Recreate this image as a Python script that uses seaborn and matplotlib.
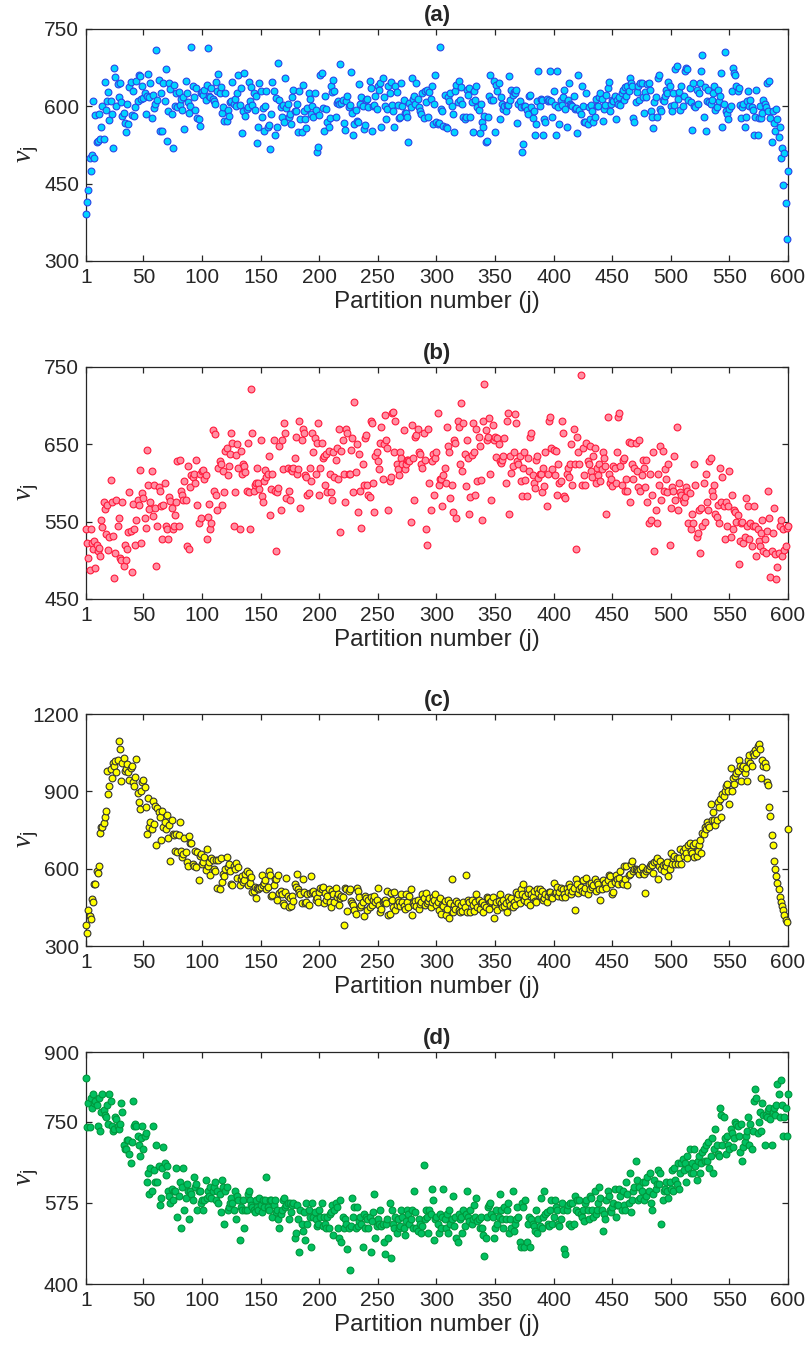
import numpy as np
import pandas as pd
import matplotlib
matplotlib.use("Agg")
import matplotlib.pyplot as plt
import seaborn as sns

# ---------------- data ----------------
x_ticks = [1, 50, 100, 150, 200, 250, 300, 350, 400, 450, 500, 550, 600]
panel_titles = ["(a)", "(b)", "(c)", "(d)"]
x_label = "Partition number (j)"
y_label = r"$\nu_{\mathrm{j}}$"

nu_a = [
    392, 415, 437, 500, 475, 505, 610, 500, 583, 530,
    533, 585, 537, 560, 600, 536, 648, 592, 610, 628,
    573, 610, 585, 520, 675, 657, 600, 643, 618, 645,
    608, 582, 587, 568, 550, 604, 565, 638, 647, 583,
    630, 582, 598, 650, 610, 660, 658, 615, 640, 617,
    625, 585, 620, 662, 618, 645, 578, 622, 596, 605,
    710, 612, 652, 553, 626, 553, 645, 610, 672, 533,
    590, 645, 633, 585, 520, 642, 600, 625, 598, 628,
    603, 615, 592, 618, 557, 650, 625, 608, 588, 600,
    715, 640, 618, 592, 636, 578, 575, 562, 625, 628,
    622, 632, 612, 642, 713, 620, 618, 635, 615, 610,
    605, 648, 630, 662, 625, 638, 588, 598, 572, 625,
    572, 592, 582, 608, 610, 647, 605, 615, 600, 625,
    660, 603, 635, 548, 590, 664, 582, 595, 598, 647,
    610, 638, 602, 625, 592, 620, 528, 560, 645, 630,
    580, 597, 553, 600, 630, 560, 563, 518, 585, 648,
    630, 545, 617, 560, 685, 612, 598, 580, 603, 570,
    655, 597, 605, 580, 585, 565, 618, 632, 590, 590,
    605, 550, 630, 575, 550, 642, 590, 575, 558, 596,
    625, 615, 585, 600, 580, 625, 592, 512, 522, 583,
    660, 665, 597, 553, 620, 595, 570, 560, 578, 640,
    628, 652, 630, 580, 607, 610, 605, 682, 606, 612,
    567, 555, 610, 620, 598, 603, 667, 588, 545, 565,
    592, 572, 570, 643, 605, 618, 600, 557, 563, 612,
    615, 598, 650, 635, 552, 600, 603, 620, 595, 640,
    632, 645, 560, 655, 618, 600, 575, 595, 640, 625,
    648, 602, 590, 560, 640, 628, 603, 578, 580, 645,
    600, 612, 587, 588, 580, 530, 607, 598, 655, 615,
    620, 604, 645, 615, 598, 590, 585, 625, 578, 630,
    608, 632, 580, 628, 615, 640, 565, 605, 660, 570,
    565, 568, 715, 595, 590, 562, 622, 560, 558, 618,
    610, 625, 600, 585, 550, 630, 642, 608, 650, 612,
    638, 605, 580, 575, 580, 632, 622, 635, 580, 608,
    550, 630, 612, 640, 598, 592, 548, 605, 570, 560,
    582, 530, 533, 580, 620, 660, 612, 612, 650, 550,
    642, 630, 645, 575, 618, 605, 595, 600, 590, 603,
    603, 658, 613, 632, 622, 628, 625, 632, 568, 605,
    610, 598, 512, 527, 600, 600, 592, 585, 620, 622,
    598, 578, 590, 545, 565, 610, 668, 600, 615, 612,
    545, 575, 570, 615, 610, 612, 668, 610, 580, 630,
    603, 545, 668, 598, 565, 612, 602, 618, 632, 595,
    560, 612, 645, 605, 602, 600, 620, 595, 597, 548,
    660, 592, 585, 640, 600, 570, 570, 625, 565, 598,
    575, 602, 590, 570, 580, 615, 600, 600, 618, 625,
    615, 572, 595, 602, 622, 635, 648, 590, 605, 612,
    610, 620, 575, 612, 605, 618, 603, 625, 632, 612,
    638, 620, 640, 630, 655, 645, 640, 578, 570, 608,
    628, 640, 612, 645, 645, 618, 588, 628, 618, 643,
    645, 632, 590, 580, 558, 608, 618, 580, 655, 660,
    595, 590, 612, 610, 620, 632, 625, 648, 640, 600,
    590, 625, 602, 672, 678, 615, 628, 592, 640, 600,
    620, 668, 675, 672, 612, 635, 608, 555, 645, 600,
    598, 632, 605, 625, 645, 668, 700, 580, 638, 553,
    610, 632, 608, 605, 612, 625, 640, 592, 598, 632,
    610, 620, 665, 560, 605, 705, 590, 585, 575, 595,
    600, 630, 675, 665, 660, 640, 630, 635, 603, 578,
    598, 605, 560, 580, 610, 630, 600, 612, 598, 592,
    545, 580, 632, 545, 578, 600, 578, 588, 612, 605,
    598, 645, 590, 650, 578, 530, 590, 568, 553, 595,
    575, 540, 560, 500, 520, 447, 510, 412, 343, 475,
]

nu_b = [
    540, 522, 503, 488, 541, 522, 515, 525, 490, 520,
    512, 516, 505, 552, 543, 575, 566, 534, 572, 513,
    530, 604, 575, 532, 477, 510, 578, 545, 555, 503,
    500, 575, 493, 520, 500, 515, 536, 588, 538, 485,
    573, 540, 520, 552, 578, 572, 617, 522, 587, 580,
    555, 542, 643, 598, 567, 576, 615, 557, 597, 568,
    493, 545, 595, 590, 570, 528, 572, 600, 545, 540,
    528, 582, 577, 568, 540, 545, 558, 576, 628, 545,
    630, 590, 585, 578, 603, 578, 518, 622, 515, 595,
    610, 608, 612, 600, 630, 572, 548, 612, 555, 615,
    617, 605, 610, 528, 556, 573, 540, 548, 668, 590,
    663, 585, 565, 620, 628, 625, 572, 615, 588, 642,
    645, 610, 622, 638, 665, 652, 545, 588, 636, 650,
    620, 540, 641, 612, 625, 622, 614, 590, 652, 588,
    541, 722, 665, 590, 597, 600, 620, 600, 592, 655,
    583, 575, 603, 617, 608, 612, 635, 558, 592, 612,
    655, 590, 512, 588, 593, 648, 565, 655, 618, 678,
    665, 580, 620, 590, 578, 618, 615, 620, 632, 660,
    612, 618, 680, 568, 655, 670, 665, 610, 608, 585,
    587, 620, 603, 665, 640, 658, 612, 652, 678, 585,
    620, 652, 632, 635, 598, 637, 588, 642, 612, 588,
    578, 640, 608, 630, 645, 605, 670, 536, 642, 655,
    612, 576, 670, 665, 612, 612, 643, 658, 588, 705,
    614, 650, 562, 638, 590, 542, 625, 598, 658, 662,
    598, 585, 582, 680, 678, 600, 562, 635, 640, 628,
    618, 652, 672, 605, 650, 688, 655, 645, 565, 602,
    608, 690, 692, 640, 680, 625, 618, 610, 640, 632,
    625, 668, 618, 625, 630, 630, 628, 550, 675, 632,
    578, 660, 662, 670, 640, 638, 624, 620, 665, 630,
    540, 520, 670, 600, 565, 628, 637, 585, 632, 640,
    690, 598, 605, 605, 570, 610, 620, 600, 672, 648,
    640, 580, 598, 563, 656, 652, 555, 680, 673, 625,
    703, 615, 678, 638, 596, 655, 632, 560, 582, 636,
    678, 640, 585, 670, 603, 660, 648, 604, 552, 680,
    728, 668, 655, 660, 684, 612, 578, 675, 656, 660,
    633, 658, 650, 628, 626, 630, 635, 658, 600, 680,
    690, 560, 635, 613, 622, 640, 689, 678, 628, 625,
    635, 602, 583, 620, 640, 604, 583, 632, 615, 660,
    665, 610, 600, 593, 630, 635, 607, 612, 612, 588,
    620, 596, 640, 570, 612, 680, 685, 645, 618, 643,
    610, 642, 585, 625, 600, 602, 680, 665, 583, 580,
    612, 620, 608, 625, 650, 598, 670, 625, 515, 660,
    640, 625, 740, 598, 645, 610, 598, 652, 628, 625,
    648, 615, 608, 635, 645, 600, 620, 610, 625, 602,
    618, 640, 632, 622, 560, 685, 612, 600, 605, 596,
    622, 620, 600, 640, 685, 690, 622, 598, 630, 632,
    590, 605, 590, 653, 575, 652, 625, 605, 620, 652,
    615, 595, 655, 590, 610, 630, 620, 595, 630, 575,
    548, 612, 552, 585, 640, 512, 565, 548, 612, 598,
    648, 578, 642, 590, 618, 605, 588, 625, 520, 568,
    595, 590, 635, 578, 672, 565, 600, 588, 585, 578,
    575, 582, 595, 590, 548, 587, 540, 560, 548, 625,
    598, 530, 535, 565, 510, 568, 545, 600, 550, 612,
    575, 565, 628, 632, 590, 583, 598, 560, 556, 572,
    548, 620, 575, 608, 570, 528, 575, 545, 570, 615,
    530, 585, 540, 565, 562, 550, 558, 495, 525, 548,
    550, 522, 530, 580, 545, 570, 528, 548, 518, 545,
    570, 545, 505, 540, 525, 518, 535, 552, 512, 528,
    510, 538, 590, 555, 478, 512, 535, 568, 508, 476,
    492, 510, 545, 552, 505, 540, 513, 518, 542, 545,
]

nu_c = [
    380, 350, 440, 418, 405, 482, 470, 540, 540, 590,
    585, 612, 740, 760, 762, 778, 800, 825, 980, 890,
    920, 985, 950, 1008, 1000, 1018, 975, 1022, 1097, 1065,
    942, 1010, 1030, 978, 985, 1005, 975, 945, 990, 1000,
    935, 920, 955, 1025, 895, 858, 830, 900, 935, 945,
    918, 840, 735, 875, 760, 780, 752, 862, 775, 845,
    690, 835, 818, 800, 710, 825, 762, 780, 752, 808,
    720, 770, 630, 790, 735, 730, 668, 735, 665, 732,
    780, 668, 645, 655, 720, 665, 625, 612, 728, 700,
    698, 620, 612, 668, 605, 665, 555, 650, 655, 620,
    625, 645, 595, 675, 612, 625, 575, 640, 635, 600,
    590, 635, 525, 635, 520, 640, 548, 580, 572, 600,
    645, 605, 620, 590, 540, 535, 610, 600, 622, 565,
    608, 535, 560, 570, 548, 555, 580, 590, 535, 585,
    545, 568, 510, 515, 530, 488, 525, 520, 525, 530,
    575, 535, 545, 555, 520, 530, 590, 575, 495, 498,
    535, 560, 560, 478, 575, 505, 512, 500, 468, 460,
    510, 565, 495, 450, 485, 455, 495, 475, 540, 530,
    578, 520, 510, 500, 465, 560, 510, 465, 470, 500,
    460, 505, 570, 510, 515, 500, 480, 485, 470, 510,
    525, 520, 530, 465, 505, 480, 495, 520, 470, 450,
    515, 500, 470, 525, 490, 500, 460, 485, 495, 490,
    380, 525, 520, 435, 515, 520, 475, 465, 460, 440,
    425, 525, 515, 490, 450, 460, 470, 415, 495, 485,
    440, 480, 450, 490, 460, 480, 495, 470, 480, 525,
    460, 430, 445, 470, 475, 480, 465, 515, 420, 425,
    505, 480, 450, 510, 440, 460, 480, 470, 455, 500,
    470, 455, 445, 500, 470, 450, 495, 520, 420, 465,
    460, 475, 455, 480, 445, 462, 470, 500, 485, 460,
    505, 465, 475, 485, 450, 470, 490, 480, 500, 460,
    470, 440, 485, 425, 460, 455, 475, 420, 445, 480,
    410, 465, 560, 430, 460, 445, 475, 465, 440, 430,
    460, 435, 470, 450, 575, 430, 480, 470, 430, 480,
    460, 435, 470, 500, 450, 480, 445, 465, 470, 430,
    460, 450, 490, 485, 445, 470, 475, 490, 410, 455,
    470, 440, 475, 500, 465, 450, 480, 455, 465, 430,
    490, 475, 460, 485, 450, 470, 460, 510, 485, 500,
    465, 520, 500, 540, 480, 495, 470, 505, 520, 460,
    500, 490, 515, 475, 470, 520, 505, 520, 495, 515,
    480, 485, 500, 470, 495, 510, 510, 490, 485, 545,
    505, 510, 530, 495, 510, 525, 490, 520, 500, 490,
    525, 510, 540, 530, 500, 515, 525, 440, 560, 540,
    505, 520, 530, 515, 555, 510, 525, 565, 500, 540,
    520, 545, 530, 535, 560, 515, 550, 540, 520, 480,
    520, 555, 540, 545, 525, 555, 575, 570, 540, 500,
    510, 550, 575, 560, 540, 565, 590, 545, 540, 610,
    560, 610, 535, 575, 580, 620, 630, 590, 600, 600,
    595, 590, 580, 600, 605, 585, 580, 505, 590, 600,
    600, 610, 620, 615, 585, 625, 630, 640, 560, 610,
    630, 600, 615, 590, 620, 610, 625, 570, 600, 660,
    620, 640, 650, 620, 640, 620, 640, 675, 620, 670,
    650, 680, 660, 640, 690, 700, 670, 660, 690, 645,
    700, 650, 670, 690, 710, 660, 740, 735, 760, 755,
    780, 770, 760, 850, 790, 820, 790, 770, 790, 860,
    840, 870, 800, 890, 880, 900, 920, 930, 900, 850,
    990, 900, 950, 930, 960, 970, 980, 1020, 1000, 940,
    990, 1000, 970, 990, 940, 1020, 1040, 1010, 1000, 1050,
    1040, 1060, 1050, 1075, 1082, 1065, 950, 1020, 1000, 1010,
    995, 935, 925, 840, 805, 730, 690, 630, 600, 570,
    545, 520, 490, 470, 455, 440, 420, 400, 393, 753,
]

nu_d = [
    845, 738, 790, 738, 800, 780, 810, 790, 795, 785,
    740, 800, 730, 770, 810, 775, 765, 760, 785, 745,
    810, 795, 740, 730, 735, 760, 755, 740, 735, 745,
    790, 770, 700, 690, 690, 710, 710, 680, 660, 705,
    795, 740, 745, 740, 720, 700, 675, 715, 740, 690,
    720, 725, 620, 640, 595, 650, 600, 740, 645, 620,
    700, 620, 655, 570, 585, 650, 695, 660, 635, 655,
    600, 590, 575, 605, 580, 600, 600, 650, 545, 590,
    620, 520, 610, 650, 560, 585, 615, 600, 540, 600,
    595, 580, 630, 610, 615, 560, 600, 600, 575, 580,
    560, 580, 625, 585, 600, 590, 610, 585, 600, 610,
    620, 580, 600, 575, 595, 555, 625, 610, 530, 600,
    610, 560, 565, 575, 585, 575, 560, 600, 540, 590,
    580, 495, 565, 560, 580, 520, 560, 560, 595, 600,
    580, 570, 565, 560, 555, 580, 565, 560, 585, 570,
    555, 580, 565, 580, 630, 565, 560, 580, 580, 545,
    570, 580, 555, 560, 540, 520, 550, 560, 580, 585,
    565, 570, 575, 540, 575, 555, 570, 575, 500, 510,
    570, 540, 470, 560, 530, 515, 555, 495, 575, 530,
    560, 545, 480, 575, 545, 555, 540, 525, 530, 560,
    545, 575, 525, 545, 530, 520, 545, 520, 550, 555,
    570, 505, 560, 575, 565, 520, 500, 580, 490, 545,
    520, 540, 530, 475, 520, 430, 525, 585, 545, 565,
    520, 565, 525, 535, 545, 530, 480, 550, 520, 545,
    540, 520, 545, 470, 535, 555, 595, 500, 525, 540,
    530, 560, 525, 530, 490, 465, 530, 540, 500, 575,
    455, 560, 530, 520, 545, 510, 540, 520, 525, 560,
    545, 520, 505, 535, 560, 550, 530, 540, 560, 520,
    600, 555, 520, 515, 540, 530, 510, 525, 657, 540,
    560, 545, 510, 560, 550, 605, 580, 495, 540, 545,
    530, 510, 550, 520, 545, 605, 540, 520, 550, 510,
    560, 530, 540, 590, 525, 545, 500, 490, 550, 540,
    545, 510, 560, 525, 550, 600, 545, 535, 560, 530,
    540, 570, 545, 585, 535, 540, 520, 545, 520, 505,
    460, 500, 545, 565, 570, 575, 550, 545, 500, 520,
    560, 530, 545, 595, 560, 540, 520, 565, 540, 560,
    575, 510, 540, 520, 600, 515, 530, 540, 565, 545,
    490, 480, 575, 565, 480, 580, 490, 530, 545, 480,
    540, 530, 525, 515, 560, 510, 540, 525, 585, 520,
    545, 600, 550, 555, 530, 525, 560, 580, 530, 545,
    580, 565, 560, 530, 525, 540, 575, 560, 475, 465,
    560, 570, 530, 575, 525, 575, 530, 590, 560, 580,
    555, 580, 550, 545, 560, 535, 575, 580, 560, 540,
    590, 585, 560, 545, 600, 550, 560, 575, 610, 585,
    560, 515, 550, 540, 580, 600, 590, 560, 555, 565,
    575, 605, 545, 570, 570, 605, 590, 560, 600, 570,
    560, 620, 595, 575, 640, 555, 580, 600, 610, 665,
    625, 580, 610, 585, 600, 620, 580, 620, 590, 630,
    600, 640, 575, 560, 595, 625, 605, 615, 645, 615,
    640, 530, 580, 600, 605, 620, 600, 585, 620, 605,
    645, 600, 650, 625, 615, 660, 605, 640, 660, 670,
    645, 660, 620, 675, 650, 690, 640, 660, 640, 690,
    655, 625, 665, 675, 640, 660, 685, 690, 665, 700,
    665, 705, 650, 675, 715, 640, 690, 735, 700, 680,
    675, 780, 765, 700, 760, 715, 680, 720, 700, 690,
    735, 725, 695, 715, 750, 745, 740, 720, 685, 745,
    665, 695, 705, 720, 730, 760, 700, 745, 690, 730,
    795, 820, 800, 725, 750, 770, 730, 790, 765, 700,
    765, 760, 775, 780, 755, 700, 770, 780, 765, 785,
    830, 810, 760, 840, 785, 720, 760, 780, 720, 810,
]

y_limits = [(300, 750), (450, 750), (300, 1200), (400, 900)]
y_ticks = [[300, 450, 600, 750], [450, 550, 650, 750],
           [300, 600, 900, 1200], [400, 575, 750, 900]]

# ---------------- style ----------------
sns.set_style("ticks")
plt.rcParams["font.family"] = ["Liberation Sans", "DejaVu Sans"]
plt.rcParams["mathtext.fontset"] = "custom"
plt.rcParams["mathtext.rm"] = "Liberation Sans"
plt.rcParams["mathtext.it"] = "Liberation Serif:italic"

face_colors = ["#00D4FF", "#FF8FA3", "#FFFF00", "#00C060"]
edge_colors = ["#2B45E6", "#FF1A3C", "#333333", "#00963C"]

fig = plt.figure(figsize=(8.09, 13.52), dpi=100)
W, H = 809.0, 1352.0
left_px, right_px = 86, 788
axes_px = [(29, 261), (367, 599), (714, 946), (1052, 1284)]

series = [nu_a, nu_b, nu_c, nu_d]
spine_col = "#262626"

for k in range(4):
    top, bot = axes_px[k]
    ax = fig.add_axes([left_px / W, 1 - bot / H, (right_px - left_px) / W, (bot - top) / H])
    vals = series[k]
    df = pd.DataFrame({"j": np.arange(1, len(vals) + 1), "nu": vals})
    sns.scatterplot(data=df, x="j", y="nu", ax=ax, color=face_colors[k],
                    edgecolor=edge_colors[k], s=24, linewidth=0.8, legend=False,
                    zorder=3, clip_on=False)
    ax.set_xlim(1, 600)
    ax.set_ylim(*y_limits[k])
    ax.set_xticks(x_ticks)
    ax.set_yticks(y_ticks[k])
    ax.tick_params(direction="in", top=True, right=True, length=4.5, width=0.9,
                   labelsize=15, colors=spine_col, pad=5)
    for sp in ax.spines.values():
        sp.set_visible(True)
        sp.set_color(spine_col)
        sp.set_linewidth(0.9)
    ax.set_xlabel(x_label, fontsize=17.5, color=spine_col, labelpad=3)
    ax.set_ylabel(y_label, fontsize=20, color=spine_col)
    ax.yaxis.set_label_coords((41 - left_px) / (right_px - left_px), 0.46)
    ax.set_title(panel_titles[k], fontsize=16, fontweight="bold", pad=6)

fig.savefig("out.png", dpi=100)
